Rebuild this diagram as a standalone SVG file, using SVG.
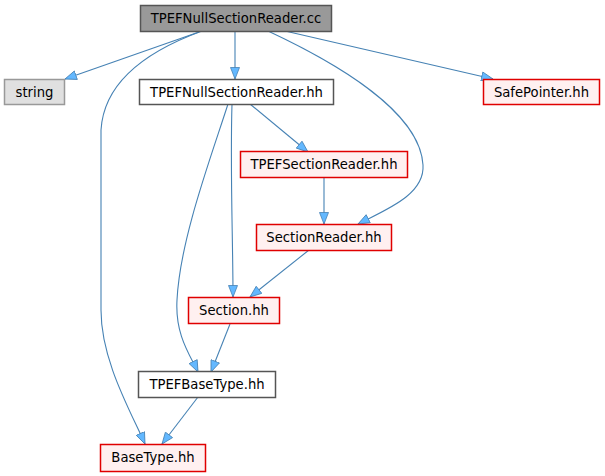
<svg xmlns="http://www.w3.org/2000/svg" width="605" height="476" viewBox="0 0 605 476">
<style>
.node text{font-family:"DejaVu Sans",sans-serif;font-size:13.2px;fill:#000;text-anchor:middle}
.node rect{stroke-width:1.5}
.root rect{fill:#999999;stroke:#555555}
.plain rect{fill:#ffffff;stroke:#555555}
.sys rect{fill:#e0e0e0;stroke:#999999}
.red rect{fill:#fff0f0;stroke:#e00000}
#edges path{fill:none;stroke:#4682b4;stroke-width:1.1;marker-end:url(#arr)}
</style>
<defs>
<marker id="arr" viewBox="0 0 13 10" refX="12" refY="5" markerWidth="13" markerHeight="10" markerUnits="userSpaceOnUse" orient="auto">
<path d="M0.5,0.5 L12,5 L0.5,9.5 Z" fill="#63b8ff" stroke="#4682b4" stroke-width="0.8"/>
</marker>
</defs>
<rect width="605" height="476" fill="#ffffff"/>
<g id="edges">
<path d="M199,32 L65,79"/>
<path d="M235,31 L235,79"/>
<path d="M202,31 C150,50 104,80 101,130 L101,310 C101,360 130,410 145,444"/>
<path d="M268,31 C330,60 420,110 423,165 C425,195 385,210 358,224"/>
<path d="M285,31 L493,79"/>
<path d="M250,104 L308,152"/>
<path d="M232,104 C230,170 233,240 233,297"/>
<path d="M228,104 C210,160 180,240 177,300 C175,335 190,355 198,372"/>
<path d="M324,177 L324,224"/>
<path d="M309,250 L250,297"/>
<path d="M230,324 L211,372"/>
<path d="M198,397 L162,444"/>
</g>
<g id="n_cc" class="node root"><rect x="140.5" y="5.5" width="191" height="26"/><text x="236" y="23">TPEFNullSectionReader.cc</text></g>
<g id="n_string" class="node sys"><rect x="4.5" y="79.5" width="60" height="25"/><text x="34.5" y="96.5">string</text></g>
<g id="n_hh" class="node plain"><rect x="139.5" y="79.5" width="194" height="25"/><text x="236.5" y="96.5">TPEFNullSectionReader.hh</text></g>
<g id="n_safe" class="node red"><rect x="483.5" y="79.5" width="116" height="25"/><text x="541.5" y="96.5">SafePointer.hh</text></g>
<g id="n_tsr" class="node red"><rect x="240.5" y="151.5" width="167" height="26"/><text x="324" y="169">TPEFSectionReader.hh</text></g>
<g id="n_sr" class="node red"><rect x="256.5" y="224.5" width="135" height="26"/><text x="324" y="242">SectionReader.hh</text></g>
<g id="n_sec" class="node red"><rect x="188.5" y="297.5" width="91" height="26"/><text x="234" y="315">Section.hh</text></g>
<g id="n_tbt" class="node plain"><rect x="138.5" y="371.5" width="137" height="26"/><text x="207" y="389">TPEFBaseType.hh</text></g>
<g id="n_bt" class="node red"><rect x="100.5" y="444.5" width="105" height="27"/><text x="153" y="462">BaseType.hh</text></g>
</svg>
